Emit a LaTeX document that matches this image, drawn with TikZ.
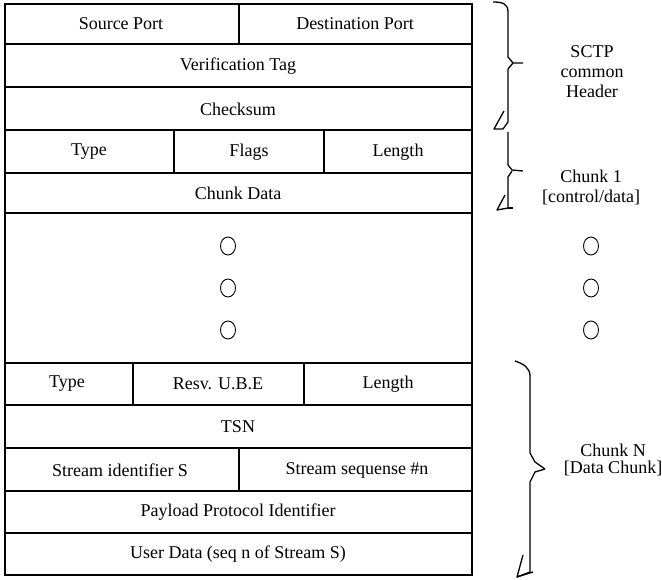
\documentclass[tikz,border=0pt]{standalone}
\usepackage{fontspec}
\setmainfont{Liberation Serif}
\usetikzlibrary{shapes.geometric}
\begin{document}
\begin{tikzpicture}[x=1pt,y=-1pt,
  sep/.style={line width=2pt},
  outer/.style={line width=1.2pt},
  lbl/.style={font=\fontsize{18}{20}\selectfont, inner sep=0pt},
  side/.style={font=\fontsize{18}{20}\selectfont, align=center, inner sep=0pt},
  dotmark/.style={ellipse, draw, line width=0.9pt, minimum width=15pt, minimum height=18pt, inner sep=0pt},
  brace/.style={line width=1.3pt, line join=round}]
\useasboundingbox (0,0) rectangle (662,580);
% outer frame
\draw[outer] (5,4) rectangle (472,575);
% horizontal separators
\foreach \yy in {44,87,130,173,213,363,405,448,491,533}
  \draw[sep] (5,\yy) -- (472,\yy);
% vertical dividers
\draw[sep] (239,4) -- (239,44);
\draw[sep] (174,130) -- (174,173);
\draw[sep] (324,130) -- (324,173);
\draw[sep] (133,363) -- (133,405);
\draw[sep] (304,363) -- (304,405);
\draw[sep] (239,448) -- (239,491);
% cell labels
\node[lbl] (sp) at (121,24) {Source Port};
\node[lbl] (dp) at (355,24) {Destination Port};
\node[lbl] (vt) at (238,66) {Verification Tag};
\node[lbl] (cs) at (238,109) {Checksum};
\node[lbl] (t1) at (89,152) {Type};
\node[lbl] (fl) at (249,152) {Flags};
\node[lbl] (l1) at (398,152) {Length};
\node[lbl] (cd) at (238,193) {Chunk Data};
\node[lbl] (t2) at (67,384) {Type};
\node[lbl] (rv) at (218,384) {Resv. U.B.E};
\node[lbl] (l2) at (388,384) {Length};
\node[lbl] (tsn) at (238,427) {TSN};
\node[lbl] (si) at (120,470) {Stream identifier S};
\node[lbl] (ss) at (357,470) {Stream sequense \#n};
\node[lbl] (pp) at (238,512) {Payload Protocol Identifier};
\node[lbl] (ud) at (238,554) {User Data (seq n of Stream S)};
% ellipsis circles
\node[dotmark] (c1) at (228,246) {};
\node[dotmark] (c2) at (228,288) {};
\node[dotmark] (c3) at (228,330) {};
\node[dotmark] (c4) at (591,246) {};
\node[dotmark] (c5) at (591,288) {};
\node[dotmark] (c6) at (591,330) {};
% braces
\draw[brace] (493,2) .. controls (503,2) and (508,4) .. (508,12) -- (508,57) -- (513,63) -- (523,63);
\draw[brace] (513,63) -- (508,69) -- (508,122) -- (503,129) -- (494,129) -- (504,111);
\draw[brace] (508,132) -- (508,165) -- (512,170) -- (523,171);
\draw[brace] (512,171) -- (508,177) -- (508,208) -- (497,210) -- (505,195);
\draw[brace] (508,208) -- (513,208);
\draw[brace] (515,361) .. controls (524,364) and (530,368) .. (530,376) -- (530,453) -- (535,462) -- (545,469);
\draw[brace] (545,469) -- (535,472) -- (530,482) -- (530,572) -- (517,577) -- (523,555);
\draw[brace] (517,577) -- (533,572);
% side labels
\node[side] (hdr) at (592,72) {SCTP\\common\\Header};
\node[side] (ch1) at (591,187) {Chunk 1\\{[}control/data{]}};
\node[side, font=\fontsize{18}{17}\selectfont] (chn) at (613,460) {Chunk N\\{[}Data Chunk{]}};
\end{tikzpicture}
\end{document}
